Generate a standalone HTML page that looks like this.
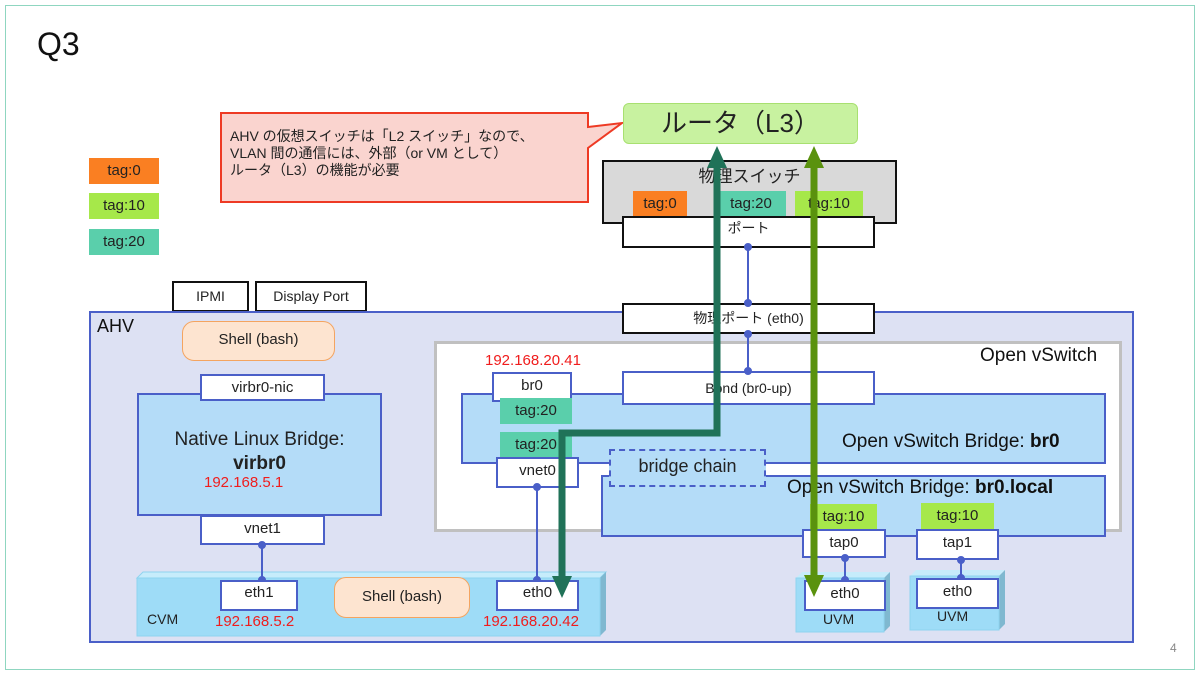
<!DOCTYPE html>
<html><head><meta charset="utf-8"><style>
body{margin:0;width:1200px;height:675px;background:#fff;position:relative;overflow:hidden;font-family:"Liberation Sans","Noto Sans CJK JP",sans-serif;}
.a{position:absolute;box-sizing:border-box;}
.w{background:#fff;border:2px solid #4a5fc8;text-align:center;font-size:15px;color:#222;}
.k{background:#fff;border:2px solid #111;text-align:center;font-size:14px;color:#222;}
.t{text-align:center;font-size:15px;color:#222;}
.r{color:#f01c1c;font-size:15px;position:absolute;}
.o{background:#fa7f22}.g{background:#a6e84a}.c{background:#5acfab}
</style></head><body>
<div class="a" style="left:5px;top:5px;width:1190px;height:665px;border:1px solid #8fd6c0"></div>
<div class="a" style="left:37px;top:26px;font-size:32px;color:#111">Q3</div>
<div class="a t o" style="left:89px;top:158px;width:70px;height:26px;line-height:26px">tag:0</div>
<div class="a t g" style="left:89px;top:193px;width:70px;height:26px;line-height:26px">tag:10</div>
<div class="a t c" style="left:89px;top:229px;width:70px;height:26px;line-height:26px">tag:20</div>
<svg class="a" style="left:0;top:0" width="1200" height="675">
<polygon points="221,113 588,113 588,127 622,123 588,148 588,202 221,202" fill="#fad4cf" stroke="#ee3a24" stroke-width="2"/>
</svg>
<div class="a" style="left:230px;top:128px;font-size:14px;line-height:17px;color:#222">AHV の仮想スイッチは「L2 スイッチ」なので、<br>VLAN 間の通信には、外部（or VM として）<br>ルータ（L3）の機能が必要</div>
<div class="a t" style="left:623px;top:103px;width:235px;height:41px;line-height:38px;background:#c8f2a0;border:1px solid #a8e070;border-radius:6px;font-size:26px">ルータ（L3）</div>
<div class="a" style="left:602px;top:160px;width:295px;height:64px;background:#d9d9d9;border:2px solid #111"></div>
<div class="a t" style="left:602px;top:162px;width:295px;font-size:17px">物理スイッチ</div>
<div class="a t o" style="left:633px;top:191px;width:54px;height:25px;line-height:25px">tag:0</div>
<div class="a t c" style="left:716px;top:191px;width:70px;height:25px;line-height:25px">tag:20</div>
<div class="a t g" style="left:795px;top:191px;width:68px;height:25px;line-height:25px">tag:10</div>
<div class="a k" style="left:622px;top:216px;width:253px;height:32px;line-height:20px">ポート</div>
<div class="a k" style="left:172px;top:281px;width:77px;height:31px;line-height:27px">IPMI</div>
<div class="a k" style="left:255px;top:281px;width:112px;height:31px;line-height:27px">Display Port</div>
<div class="a" style="left:89px;top:311px;width:1045px;height:332px;background:#dde1f3;border:2px solid #4a5fc8"></div>
<div class="a" style="left:97px;top:316px;font-size:18px;color:#111">AHV</div>
<div class="a k" style="left:622px;top:303px;width:253px;height:31px;line-height:27px">物理ポート (eth0)</div>
<div class="a t" style="left:182px;top:321px;width:153px;height:40px;line-height:36px;background:#fde4d0;border:1px solid #f4a460;border-radius:12px">Shell (bash)</div>
<div class="a" style="left:137px;top:393px;width:245px;height:123px;background:#b4dcf8;border:2px solid #4a5fc8"></div>
<div class="a w" style="left:200px;top:374px;width:125px;height:27px;line-height:23px">virbr0-nic</div>
<div class="a t" style="left:137px;top:428px;width:245px;font-size:19px;line-height:24px">Native Linux Bridge:<br><b>virbr0</b></div>
<div class="r" style="left:204px;top:474px">192.168.5.1</div>
<div class="a w" style="left:200px;top:515px;width:125px;height:30px;line-height:24px">vnet1</div>
<div class="a" style="left:434px;top:341px;width:688px;height:191px;background:#fff;border:3px solid #c0c0c0"></div>
<div class="a" style="left:980px;top:345px;font-size:19px;color:#111">Open vSwitch</div>
<div class="a" style="left:461px;top:393px;width:645px;height:71px;background:#b4dcf8;border:2px solid #4a5fc8"></div>
<div class="a" style="left:601px;top:475px;width:505px;height:62px;background:#b4dcf8;border:2px solid #4a5fc8"></div>
<div class="a" style="left:842px;top:431px;font-size:19px;color:#111">Open vSwitch Bridge: <b>br0</b></div>
<div class="a" style="left:787px;top:477px;font-size:19px;color:#111">Open vSwitch Bridge: <b>br0.local</b></div>
<div class="r" style="left:485px;top:352px">192.168.20.41</div>
<div class="a w" style="left:492px;top:372px;width:80px;height:30px;line-height:24px">br0</div>
<div class="a t c" style="left:500px;top:398px;width:72px;height:26px;line-height:26px">tag:20</div>
<div class="a w" style="left:622px;top:371px;width:253px;height:34px;line-height:30px;font-size:14px">Bond (br0-up)</div>
<div class="a t c" style="left:500px;top:432px;width:72px;height:26px;line-height:26px">tag:20</div>
<div class="a w" style="left:496px;top:457px;width:83px;height:31px;line-height:24px">vnet0</div>
<div class="a t" style="left:609px;top:449px;width:157px;height:38px;line-height:30px;border:2px dashed #4a5fc8;background:#b4dcf8;font-size:18px">bridge chain</div>
<div class="a t g" style="left:810px;top:504px;width:67px;height:26px;line-height:26px">tag:10</div>
<div class="a w" style="left:802px;top:529px;width:84px;height:29px;line-height:24px">tap0</div>
<div class="a t g" style="left:921px;top:503px;width:73px;height:26px;line-height:26px">tag:10</div>
<div class="a w" style="left:916px;top:529px;width:83px;height:31px;line-height:24px">tap1</div>
<svg class="a" style="left:0;top:0" width="1200" height="675">
<polygon points="137,578 143,572 606,572 600,578" fill="#c6ecfb" stroke="#8fd4ef"/>
<polygon points="600,578 606,572 606,630 600,636" fill="#7fb8d0"/>
<rect x="137" y="578" width="463" height="58" fill="#9edcf7" stroke="#8fd4ef"/>
<polygon points="796,578 802,572 890,572 884,578" fill="#c6ecfb"/><polygon points="884,578 890,572 890,626 884,632" fill="#7fb8d0"/><rect x="796" y="578" width="88" height="54" fill="#9edcf7" stroke="#8fd4ef"/>
<polygon points="910,576 916,570 1005,570 999,576" fill="#c6ecfb"/><polygon points="999,576 1005,570 1005,624 999,630" fill="#7fb8d0"/><rect x="910" y="576" width="89" height="54" fill="#9edcf7" stroke="#8fd4ef"/>
<g stroke="#4a5fc8" stroke-width="2" fill="#4a5fc8">
<line x1="748" y1="247" x2="748" y2="303"/><circle cx="748" cy="247" r="3"/><circle cx="748" cy="303" r="3"/>
<line x1="748" y1="334" x2="748" y2="371"/><circle cx="748" cy="334" r="3"/><circle cx="748" cy="371" r="3"/>
<line x1="262" y1="545" x2="262" y2="580"/><circle cx="262" cy="545" r="3"/><circle cx="262" cy="580" r="3"/>
<line x1="537" y1="488" x2="537" y2="580"/><circle cx="537" cy="487" r="3"/><circle cx="537" cy="580" r="3"/>
<line x1="845" y1="558" x2="845" y2="580"/><circle cx="845" cy="558" r="3"/><circle cx="845" cy="580" r="3"/>
<line x1="961" y1="560" x2="961" y2="578"/><circle cx="961" cy="560" r="3"/><circle cx="961" cy="578" r="3"/>
</g>
</svg>
<div class="a w" style="left:220px;top:580px;width:78px;height:31px;line-height:22px">eth1</div>
<div class="a t" style="left:334px;top:577px;width:136px;height:41px;line-height:37px;background:#fde4d0;border:1px solid #f4a460;border-radius:12px">Shell (bash)</div>
<div class="a w" style="left:496px;top:580px;width:83px;height:31px;line-height:22px">eth0</div>
<div class="a" style="left:147px;top:611px;font-size:14px;color:#222">CVM</div>
<div class="r" style="left:215px;top:613px">192.168.5.2</div>
<div class="r" style="left:483px;top:613px">192.168.20.42</div>
<div class="a w" style="left:804px;top:580px;width:82px;height:31px;line-height:24px">eth0</div>
<div class="a w" style="left:916px;top:578px;width:83px;height:31px;line-height:24px">eth0</div>
<div class="a" style="left:823px;top:611px;font-size:14px;color:#222">UVM</div>
<div class="a" style="left:937px;top:608px;font-size:14px;color:#222">UVM</div>
<svg class="a" style="left:0;top:0" width="1200" height="675">
<polyline points="562,578 562,433 717,433 717,166" fill="none" stroke="#207258" stroke-width="7"/>
<polygon points="552,576 572,576 562,598" fill="#207258"/>
<polygon points="707,168 727,168 717,146" fill="#207258"/>
<line x1="814" y1="166" x2="814" y2="577" stroke="#5a920e" stroke-width="7"/>
<polygon points="804,168 824,168 814,146" fill="#5a920e"/>
<polygon points="804,575 824,575 814,597" fill="#5a920e"/>
</svg>
<div class="a" style="left:1170px;top:641px;font-size:12px;color:#888">4</div>
</body></html>
